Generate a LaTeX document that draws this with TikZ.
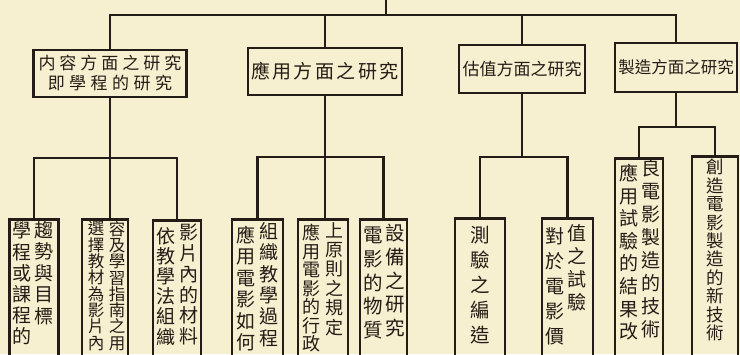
\documentclass[tikz,border=0pt]{standalone}
\usepackage{fontspec}
\newfontfamily\cjk{Noto Sans CJK TC}
\newcommand\cjkf[2]{\cjk\fontsize{#1}{#2}\selectfont\lineskiplimit=-100pt\relax}
\definecolor{paper}{RGB}{247,240,208}
\definecolor{ink}{RGB}{36,28,22}
\begin{document}
\begin{tikzpicture}[x=1pt,y=-1pt,
  conn/.style={draw=ink,line width=2.3pt},
  topbox/.style={draw=ink,line width=2.5pt,inner sep=0pt,align=center,text=ink},
  colbox/.style={draw=ink,line width=2.5pt,anchor=north,minimum height=230,inner sep=0pt},
  vtext/.style={anchor=north,inner sep=0pt,align=center,text=ink}]
\fill[paper] (0,0) rectangle (740,354);
\useasboundingbox (0,0) rectangle (740,354);
\clip (0,0) rectangle (740,354);
% top level boxes
\node[topbox,minimum width=153,minimum height=47,font={\cjkf{17}{20}}] (box1) at (110,73.5)
  {内\kern4pt 容\kern4pt 方\kern4pt 面\kern4pt 之\kern4pt 研\kern4pt 究\\即\kern4.5pt 學\kern4.5pt 程\kern4.5pt 的\kern4.5pt 研\kern4.5pt 究};
\node[topbox,minimum width=154,minimum height=47,font={\cjkf{19}{21}}] (box2) at (325,71.5)
  {應\kern2.5pt 用\kern2.5pt 方\kern2.5pt 面\kern2.5pt 之\kern2.5pt 研\kern2.5pt 究};
\node[topbox,minimum width=126,minimum height=48,font={\cjkf{17}{20}}] (box3) at (522,69) {估值方面之研究};
\node[topbox,minimum width=122,minimum height=49,font={\cjkf{16.5}{20}}] (box4) at (676,67.5) {製造方面之研究};
% second level boxes
\node[colbox,minimum width=49] (b1a) at (34,218) {};
\node[colbox,minimum width=46] (b1b) at (105,218) {};
\node[colbox,minimum width=48] (b1c) at (177,219) {};
\node[colbox,minimum width=51] (b2a) at (257.5,218) {};
\node[colbox,minimum width=50] (b2b) at (323,218) {};
\node[colbox,minimum width=47] (b2c) at (383.5,218) {};
\node[colbox,minimum width=50] (b3a) at (480,217) {};
\node[colbox,minimum width=51] (b3b) at (567.5,217) {};
\node[colbox,minimum width=48] (b4a) at (639,157) {};
\node[colbox,minimum width=46] (b4b) at (715,155) {};
% column texts
\node[vtext,font={\cjkf{19}{21.2}}] (b1a-l) at (22,222) {學\\程\\或\\課\\程\\的};
\node[vtext,font={\cjkf{19}{21.5}}] (b1a-r) at (44,221) {趨\\勢\\與\\目\\標};
\node[vtext,font={\cjkf{16.5}{16.3}}] (b1b-l) at (96,221) {選\\擇\\教\\材\\為\\影\\片\\內};
\node[vtext,font={\cjkf{16.5}{16.3}}] (b1b-r) at (117,221) {容\\及\\學\\習\\指\\南\\之\\用};
\node[vtext,font={\cjkf{19}{20.2}}] (b1c-l) at (166,227) {依\\教\\學\\法\\組\\織};
\node[vtext,font={\cjkf{19}{20.8}}] (b1c-r) at (189,224) {影\\片\\內\\的\\材\\料};
\node[vtext,font={\cjkf{19}{21.4}}] (b2a-l) at (246,226) {應\\用\\電\\影\\如\\何};
\node[vtext,font={\cjkf{19}{21.4}}] (b2a-r) at (269,222) {組\\織\\教\\學\\過\\程};
\node[vtext,font={\cjkf{18}{18.5}}] (b2b-l) at (311,224) {應\\用\\電\\影\\的\\行\\政};
\node[vtext,font={\cjkf{18}{19.4}}] (b2b-r) at (334,222) {上\\原\\則\\之\\規\\定};
\node[vtext,font={\cjkf{19.5}{23.7}}] (b2c-l) at (373,227) {電\\影\\的\\物\\質};
\node[vtext,font={\cjkf{19.5}{23.7}}] (b2c-r) at (395,224) {設\\備\\之\\研\\究};
\node[vtext,font={\cjkf{19.5}{25}}] (b3a-t) at (480,226) {測\\驗\\之\\編\\造};
\node[vtext,font={\cjkf{19}{25}}] (b3b-l) at (555,227) {對\\於\\電\\影\\價};
\node[vtext,font={\cjkf{19}{23}}] (b3b-r) at (577,224) {值\\之\\試\\驗};
\node[vtext,font={\cjkf{19}{22.6}}] (b4a-l) at (629,164) {應\\用\\試\\驗\\的\\結\\果\\改};
\node[vtext,font={\cjkf{19}{23}}] (b4a-r) at (651,159) {良\\電\\影\\製\\造\\的\\技\\術};
\node[vtext,font={\cjkf{17.5}{18.4}}] (b4b-t) at (715,159) {創\\造\\電\\影\\製\\造\\的\\新\\技\\術};
% connector coordinates
\coordinate (top0) at (386,0);
\coordinate (top1) at (386,15);
\coordinate (y1) at (0,158);
\coordinate (y2) at (0,157);
\coordinate (y3) at (0,157);
\coordinate (y4) at (0,127);
% top connectors
\draw[conn] (top0) -- (top1);
\draw[conn] (box1.north) |- (top1) -| (box4.north);
\draw[conn] (box2.north) -- (box2.north |- top1);
\draw[conn] (box3.north) -- (box3.north |- top1);
% group 1
\draw[conn] (b1a.north) -- (b1a.north |- y1) -| (b1c.north);
\draw[conn] (box1.south) -- (box1.south |- b1b.north);
% group 2
\draw[conn] (b2a.north) -- (b2a.north |- y2) -| (b2c.north);
\draw[conn] (box2.south) -- (box2.south |- b2b.north);
% group 3
\draw[conn] (b3a.north) -- (b3a.north |- y3) -| (b3b.north);
\draw[conn] (box3.south) -- (box3.south |- y3);
% group 4
\draw[conn] (b4a.north) -- (b4a.north |- y4) -| (b4b.north);
\draw[conn] (box4.south) -- (box4.south |- y4);
\end{tikzpicture}
\end{document}
